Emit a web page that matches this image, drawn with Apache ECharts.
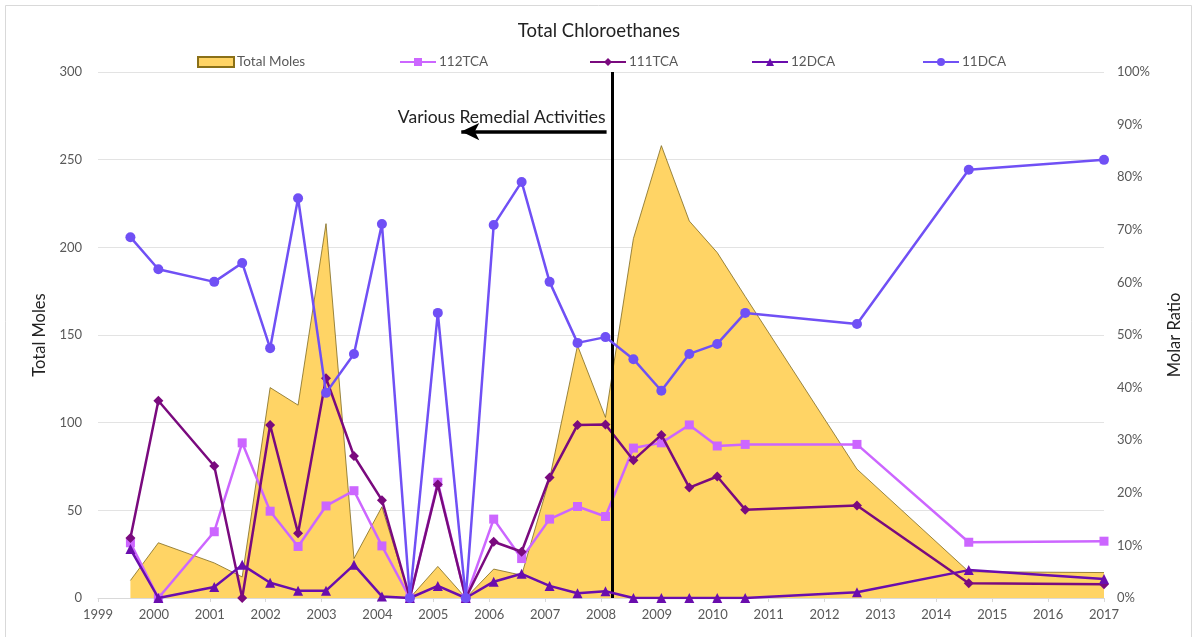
<!DOCTYPE html>
<html>
<head>
<meta charset="utf-8">
<script src="https://cdn.jsdelivr.net/npm/echarts@6/dist/echarts.min.js"></script>
<style>
html,body{margin:0;padding:0;background:#fff;}
#c{width:1198px;height:637px;}
</style>
</head>
<body>
<div id="c"></div>
<script>
// Sample dates (decimal years)
const dates = [1999.58, 2000.08, 2001.08, 2001.58, 2002.08, 2002.58, 2003.08, 2003.58, 2004.08, 2004.58,
  2005.08, 2005.58, 2006.08, 2006.58, 2007.08, 2007.58, 2008.08, 2008.58, 2009.08, 2009.58,
  2010.08, 2010.58, 2012.58, 2014.58, 2017.0];
// Total moles (left axis)
const totalMoles = [10, 31.5, 20, 12, 120, 110, 213.5, 22.5, 52, 0,
  18, 0, 16.5, 13, 68, 144, 103, 205, 258, 215,
  197, 172, 73.5, 15, 14.5];
// Molar ratios (%)
const tca112 = [10.5, 0, 12.6, 29.5, 16.5, 9.8, 17.5, 20.4, 9.9, 0,
  22.0, 0, 15.0, 7.5, 15.0, 17.4, 15.5, 28.5, 29.5, 32.9,
  28.9, 29.2, 29.2, 10.6, 10.8];
const tca111 = [11.4, 37.5, 25.1, 0, 32.9, 12.3, 41.8, 27.0, 18.6, 0,
  21.6, 0, 10.7, 8.8, 22.9, 32.9, 33.0, 26.2, 31.0, 21.0,
  23.1, 16.8, 17.6, 2.8, 2.6];
const dca12 = [9.3, 0, 2.1, 6.3, 2.9, 1.4, 1.4, 6.3, 0.3, 0,
  2.3, 0, 3.1, 4.6, 2.3, 0.9, 1.3, 0, 0, 0,
  0, 0, 1.1, 5.3, 3.6];
const dca11 = [68.6, 62.5, 60.1, 63.7, 47.5, 76.0, 39.0, 46.4, 71.1, 0,
  54.2, 0, 70.9, 79.1, 60.1, 48.5, 49.6, 45.4, 39.4, 46.4,
  48.3, 54.2, 52.1, 81.4, 83.3];
// Annotation
const remedialYear = 2008.2;
const arrowFrom = 2005.5, arrowTo = 2008.1, arrowLevel = 266;
const annotationText = 'Various Remedial Activities';

function pairs(ys, pct) { return dates.map((d, i) => [d, pct ? ys[i] / 100 : ys[i]]); }

const font = 'Lato, "Open Sans", sans-serif';
const txt = '#595959';
const chart = echarts.init(document.getElementById('c'));

const legendBase = { top: 50, itemWidth: 36, itemHeight: 10, itemGap: 0,
  textStyle: { color: txt, fontSize: 13.5, fontFamily: font, padding: [0, 0, 0, -2] } };

chart.setOption({
  animation: false,
  backgroundColor: '#fff',
  title: { text: 'Total Chloroethanes', left: 'center', top: 17,
    textStyle: { fontSize: 18.5, fontWeight: 'normal', color: '#222', fontFamily: font } },
  legend: [
    Object.assign({}, legendBase, { left: 192, data: [{ name: 'Total Moles', icon: 'rect' }] }),
    Object.assign({}, legendBase, { left: 394, data: ['112TCA'] }),
    Object.assign({}, legendBase, { left: 584, data: ['111TCA'] }),
    Object.assign({}, legendBase, { left: 746, data: ['12DCA'] }),
    Object.assign({}, legendBase, { left: 917, data: ['11DCA'] })
  ],
  grid: { left: 98, right: 94, top: 72, bottom: 39 },
  xAxis: {
    type: 'value', min: 1999, max: 2017, interval: 1,
    axisLine: { lineStyle: { color: '#d9d9d9' } },
    axisTick: { show: true, length: 4, lineStyle: { color: '#d9d9d9' } },
    splitLine: { show: false },
    axisLabel: { color: txt, fontSize: 13, fontFamily: font, margin: 10,
      formatter: v => (Number.isInteger(v) ? String(v) : '') }
  },
  yAxis: [
    { type: 'value', min: 0, max: 300, interval: 50, name: 'Total Moles', nameLocation: 'middle', nameGap: 48,
      nameTextStyle: { color: '#222', fontSize: 16.5, fontFamily: font },
      axisLine: { show: false }, axisTick: { show: false },
      axisLabel: { color: txt, fontSize: 13, fontFamily: font, margin: 16 },
      splitLine: { lineStyle: { color: '#e3e3e3' } } },
    { type: 'value', min: 0, max: 1, interval: 0.1, name: 'Molar Ratio', nameLocation: 'middle', nameGap: 62,
      nameTextStyle: { color: '#222', fontSize: 16.5, fontFamily: font },
      axisLine: { show: false }, axisTick: { show: false }, splitLine: { show: false },
      axisLabel: { color: txt, fontSize: 13, fontFamily: font, margin: 13,
        formatter: v => Math.round(v * 100) + '%' } }
  ],
  series: [
    { name: 'Total Moles', type: 'line', yAxisIndex: 0, data: pairs(totalMoles, false),
      showSymbol: false, symbol: 'none', z: 1,
      itemStyle: { color: '#FFD465', borderColor: '#8a7018', borderWidth: 1 },
      lineStyle: { color: '#7f6a20', width: 0.8 },
      areaStyle: { color: '#FFD465', opacity: 1 },
      markLine: {
        silent: true, animation: false, symbol: 'none',
        label: { show: false },
        data: [
          { xAxis: remedialYear, lineStyle: { color: '#000', width: 3, type: 'solid' } },
          [ { coord: [arrowFrom, arrowLevel], symbol: 'arrow', symbolSize: [13, 18] },
            { coord: [arrowTo, arrowLevel], symbol: 'none',
              lineStyle: { color: '#000', width: 3.5, type: 'solid' } } ]
        ],
        lineStyle: { color: '#000', width: 3, type: 'solid' }
      } },
    { name: '112TCA', type: 'line', yAxisIndex: 1, data: pairs(tca112, true), z: 3,
      symbol: 'rect', symbolSize: 9, color: '#CC66FF', lineStyle: { width: 2.5 } },
    { name: '111TCA', type: 'line', yAxisIndex: 1, data: pairs(tca111, true), z: 4,
      symbol: 'diamond', symbolSize: 10, color: '#7A0A7E', lineStyle: { width: 2.5 } },
    { name: '12DCA', type: 'line', yAxisIndex: 1, data: pairs(dca12, true), z: 5,
      symbol: 'triangle', symbolSize: 10, color: '#6A0DAD', lineStyle: { width: 2.5 } },
    { name: '11DCA', type: 'line', yAxisIndex: 1, data: pairs(dca11, true), z: 6,
      symbol: 'circle', symbolSize: 10, color: '#7050F5', lineStyle: { width: 2.5 } }
  ]
});

// Annotation text anchored to data coordinates
const p = chart.convertToPixel({ xAxisIndex: 0, yAxisIndex: 0 }, [arrowTo, arrowLevel]);
chart.setOption({ graphic: [
  { type: 'rect', shape: { x: 5.5, y: 5.5, width: 1186, height: 640 },
    style: { fill: 'none', stroke: '#d9d9d9', lineWidth: 1 }, silent: true },
  { type: 'text', x: p[0] - 1, y: p[1] - 5, silent: true,
    style: { text: annotationText, fill: '#222', font: '17.5px ' + font, textAlign: 'right', textVerticalAlign: 'bottom' } }
] });
</script>
</body>
</html>
